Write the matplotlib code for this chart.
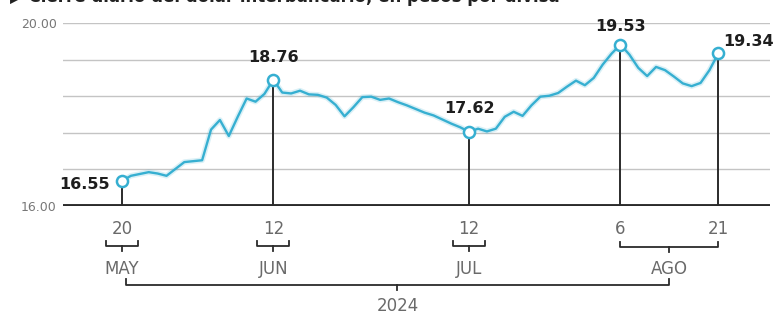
import numpy as np
import pandas as pd
import matplotlib
matplotlib.use("Agg")
import matplotlib.pyplot as plt
from matplotlib import transforms

# cierre diario del dólar interbancario (pesos por dólar), días hábiles
fechas = pd.bdate_range("2024-05-20", "2024-08-21")
cierre = [16.55, 16.66, 16.70, 16.74, 16.71, 16.66, 16.81, 16.96, 16.98, 17.00,
          17.67, 17.88, 17.53, 17.95, 18.35, 18.28, 18.45, 18.76, 18.48, 18.46,
          18.52, 18.44, 18.43, 18.37, 18.21, 17.96, 18.16, 18.38, 18.39, 18.32,
          18.35, 18.27, 18.20, 18.12, 18.04, 17.98, 17.89, 17.80, 17.72, 17.62,
          17.69, 17.63, 17.69, 17.95, 18.06, 17.97, 18.20, 18.39, 18.41, 18.47,
          18.61, 18.74, 18.64, 18.80, 19.09, 19.33, 19.53, 19.31, 19.02, 18.84,
          19.04, 18.97, 18.83, 18.68, 18.62, 18.69, 18.97, 19.34]
destacados = ["2024-05-20", "2024-06-12", "2024-07-12", "2024-08-06", "2024-08-21"]
meses = ["MAY", "JUN", "JUL", "AGO"]
anio = "2024"
niveles = [16.8, 17.6, 18.4, 19.2, 20.0]
yticks = [16.0, 20.0]
titulo = "▶ Cierre diario del dólar interbancario, en pesos por divisa"

CIAN = "#36afd1"
OSCURO = "#2b2b2b"
GRIS = "#6a6a6a"

W, H = 776, 318
fig = plt.figure(figsize=(W / 100, H / 100), dpi=100)
ax = fig.add_axes([63 / W, 1 - 206 / H, (770 - 63) / W, (206 - 23) / H])

x = np.arange(len(cierre))
idx = [fechas.get_loc(pd.Timestamp(d)) for d in destacados]

# rejilla y línea base
for n in niveles:
    ax.axhline(n, color="#c4c4c4", lw=1.0, zorder=1)
ax.axhline(16.0, color=OSCURO, lw=2.8, zorder=2)

# serie
ax.plot(x, cierre, color=CIAN, lw=4.0, alpha=0.18, zorder=3, solid_capstyle="round")
ax.plot(x, cierre, color=CIAN, lw=1.7, zorder=4, solid_joinstyle="round")

# líneas verticales + marcadores de los puntos destacados
for i in idx:
    ax.plot([x[i], x[i]], [16.0, cierre[i]], color=OSCURO, lw=1.4, zorder=2.5)
ax.plot(x[idx], np.array(cierre)[idx], "o", ms=8, mfc="white", mec=CIAN,
        mew=1.8, zorder=5)

# etiquetas de valor (desplazamientos en puntos)
desp = [(-8.6, -2.5, "right"), (0, 16, "center"), (0, 16.5, "center"),
        (0, 13, "center"), (3.6, 8.6, "left")]
for i, (dx, dy, ha) in zip(idx, desp):
    ax.annotate(f"{cierre[i]:.2f}", (x[i], cierre[i]), xytext=(dx, dy),
                textcoords="offset points", ha=ha, va="center",
                fontsize=11.5, fontweight="bold", color="#1e1e1e", zorder=6,
                annotation_clip=False)

ax.set_xlim(-6.63, 72.8)
ax.set_ylim(16, 20)
ax.set_xticks([])
ax.set_yticks(yticks)
ax.set_yticklabels([f"{v:.2f}" for v in yticks], fontsize=9, color="#777777")
ax.tick_params(axis="y", length=0, pad=4.5)
for s in ax.spines.values():
    s.set_visible(False)

# eje de fechas debajo de la gráfica
tr = transforms.blended_transform_factory(ax.transData, fig.transFigure)
fy = lambda px: 1 - px / H
lab = dict(transform=tr, ha="center", va="center", color=GRIS, fontsize=12)
brk = dict(transform=tr, color=OSCURO, lw=1.3, clip_on=False)

for i in idx:
    ax.text(x[i], fy(229), str(fechas[i].day), **lab)

# llaves de mes (un día)
hw = 1.8
for i, mes in zip(idx[:3], meses[:3]):
    ax.plot([x[i] - hw, x[i] - hw, x[i] + hw, x[i] + hw],
            [fy(241), fy(246), fy(246), fy(241)], **brk)
    ax.plot([x[i], x[i]], [fy(246), fy(251)], **brk)
    ax.text(x[i], fy(269), mes, **lab)

# llave de agosto (6 a 21)
a, b = x[idx[3]], x[idx[4]]
c = (a + b) / 2
ax.plot([a, a, b, b], [fy(242), fy(247), fy(247), fy(242)], **brk)
ax.plot([c, c], [fy(247), fy(252)], **brk)
ax.text(c, fy(269), meses[3], **lab)

# llave del año
l, r = x[idx[0]] + 0.4, c
m = (l + r) / 2
ax.plot([l, l, r, r], [fy(279), fy(285), fy(285), fy(279)], **brk)
ax.plot([m, m], [fy(285), fy(290)], **brk)
ax.text(m, fy(306), anio, **lab)

# título (recortado en el borde superior, como en el original)
fig.text(10 / W, fy(2), titulo, fontsize=12, fontweight="bold", color="#222222",
         va="baseline", ha="left")

fig.savefig("out.png", dpi=100)
